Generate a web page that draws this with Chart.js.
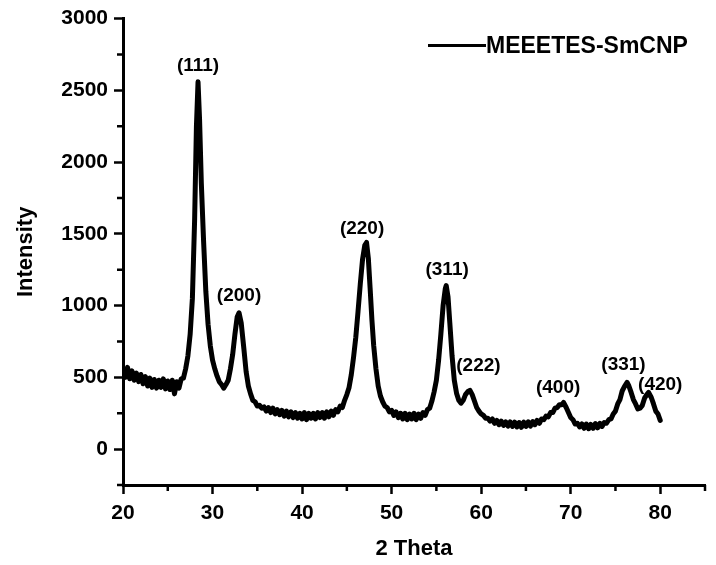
<!DOCTYPE html>
<html>
<head>
<meta charset="utf-8">
<script src="https://cdn.jsdelivr.net/npm/chart.js@4/dist/chart.umd.min.js"></script>
<style>
  html, body { margin: 0; padding: 0; background: #fff; }
  #wrap { width: 716px; height: 565px; }
</style>
</head>
<body>
<div id="wrap"><canvas id="c" width="716" height="565"></canvas></div>
<script>
// ---- data ----
const seriesName = 'MEEETES-SmCNP';
const twoTheta = [
  20.00,20.25,20.50,20.75,21.00,21.25,21.50,21.75,22.00,22.25,22.50,22.75,23.00,23.25,23.50,23.75,
  24.00,24.25,24.50,24.75,25.00,25.25,25.50,25.75,26.00,26.25,26.50,26.75,27.00,27.25,27.50,27.75,
  28.00,28.20,28.38,28.55,28.75,29.00,29.25,29.50,29.75,30.00,30.25,30.50,30.75,31.00,31.25,31.50,
  31.75,32.00,32.25,32.50,32.75,32.96,33.20,33.50,33.75,34.00,34.25,34.50,34.75,35.00,35.25,35.50,
  35.75,36.00,36.25,36.50,36.75,37.00,37.25,37.50,37.75,38.00,38.25,38.50,38.75,39.00,39.25,39.50,
  39.75,40.00,40.25,40.50,40.75,41.00,41.25,41.50,41.75,42.00,42.25,42.50,42.75,43.00,43.25,43.50,
  43.75,44.00,44.25,44.50,44.75,45.00,45.25,45.50,45.75,46.00,46.25,46.50,46.75,47.00,47.20,47.40,
  47.60,47.80,48.00,48.25,48.50,48.75,49.00,49.25,49.50,49.75,50.00,50.25,50.50,50.75,51.00,51.25,
  51.50,51.75,52.00,52.25,52.50,52.75,53.00,53.25,53.50,53.75,54.00,54.25,54.50,54.75,55.00,55.25,
  55.50,55.75,56.00,56.10,56.30,56.50,56.75,57.00,57.25,57.50,57.75,58.00,58.25,58.50,58.75,59.00,
  59.25,59.50,59.75,60.00,60.25,60.50,60.75,61.00,61.25,61.50,61.75,62.00,62.25,62.50,62.75,63.00,
  63.25,63.50,63.75,64.00,64.25,64.50,64.75,65.00,65.25,65.50,65.75,66.00,66.25,66.50,66.75,67.00,
  67.25,67.50,67.75,68.00,68.25,68.50,68.75,69.00,69.20,69.50,69.75,70.00,70.25,70.50,70.75,71.00,
  71.25,71.50,71.75,72.00,72.25,72.50,72.75,73.00,73.25,73.50,73.75,74.00,74.25,74.50,74.75,75.00,
  75.25,75.50,75.75,76.00,76.30,76.50,76.75,77.00,77.25,77.50,77.75,78.00,78.25,78.50,78.70,79.00,
  79.25,79.50,79.75,80.00
];
const intensity = [
  560,500,570,490,545,480,530,470,520,455,505,440,495,430,485,425,
  480,430,490,420,475,415,480,385,470,425,490,495,560,650,800,1050,
  1600,2250,2560,2300,1850,1450,1100,870,720,620,560,510,470,450,425,450,
  480,560,660,800,920,950,880,700,540,440,385,340,330,300,305,285,
  295,265,290,255,285,245,275,240,270,230,265,225,260,220,255,215,
  250,210,255,205,250,215,250,210,255,220,255,215,260,225,265,235,
  275,260,300,290,340,380,430,520,640,780,960,1150,1320,1420,1440,1330,
  1120,900,720,560,440,370,330,300,290,260,270,235,260,220,250,210,
  250,205,245,210,250,205,245,215,255,235,275,285,335,400,480,620,
  800,1000,1120,1140,1060,880,650,480,390,340,320,340,380,400,410,380,
  335,290,265,245,235,215,215,195,210,180,200,170,195,165,190,160,
  190,158,188,155,185,152,188,158,190,160,192,170,200,180,210,205,
  230,225,255,255,285,290,310,310,325,290,255,220,205,175,180,155,
  175,145,175,142,172,145,178,148,180,158,185,180,205,210,245,265,
  315,345,405,435,465,440,395,345,315,280,285,305,355,380,395,360,
  315,265,245,200
];
// peak labels (Miller indices) and where they sit, in data units
const peakLabels = ['(111)','(200)','(220)','(311)','(222)','(400)','(331)','(420)'];
const peakLabelX = [28.38, 32.96, 46.7, 56.2, 59.7, 68.6, 75.9, 80.0];
const peakLabelY = [2674, 1069, 1535, 1250, 583, 430, 590, 451];
// axis ticks
const xMin = 20, xMax = 85, xMajor = 10, xMinor = 5;
const yMin = -250, yMax = 3000, yMajor = 500, yMinor = 250;

const points = twoTheta.map((t, i) => ({ x: t, y: intensity[i] }));
const FONT = "'Liberation Sans', Arial, sans-serif";

function buildTicks(lo, hi, step) {
  const out = [];
  for (let v = lo; v <= hi + 1e-9; v += step) out.push({ value: Math.round(v * 1000) / 1000 });
  return out;
}
const isMajor = (v, step) => Math.abs(v / step - Math.round(v / step)) < 1e-6;

const minorTicks = {
  id: 'minorTicks',
  afterDraw(chart) {
    const ctx = chart.ctx;
    const xs = chart.scales.x, ys = chart.scales.y;
    const ca = chart.chartArea;
    ctx.save();
    ctx.strokeStyle = '#000';
    ctx.lineWidth = 2.5;
    ctx.beginPath();
    xs.ticks.forEach(t => {
      if (isMajor(t.value, xMajor)) return;
      const px = xs.getPixelForValue(t.value);
      ctx.moveTo(px, ca.bottom);
      ctx.lineTo(px, ca.bottom + 6);
    });
    ys.ticks.forEach(t => {
      if (isMajor(t.value, yMajor)) return;
      const py = ys.getPixelForValue(t.value);
      ctx.moveTo(ca.left, py);
      ctx.lineTo(ca.left - 6, py);
    });
    ctx.stroke();
    ctx.restore();
  }
};

const peakText = {
  id: 'peakText',
  afterDatasetsDraw(chart) {
    const ctx = chart.ctx;
    const xs = chart.scales.x, ys = chart.scales.y;
    ctx.save();
    ctx.fillStyle = '#000';
    ctx.font = "bold 19px " + FONT;
    ctx.textAlign = 'center';
    ctx.textBaseline = 'middle';
    peakLabels.forEach((lab, i) => {
      ctx.fillText(lab, xs.getPixelForValue(peakLabelX[i]), ys.getPixelForValue(peakLabelY[i]));
    });
    ctx.restore();
  }
};

const legendLine = {
  id: 'legendLine',
  afterDraw(chart) {
    const ctx = chart.ctx;
    const ca = chart.chartArea;
    const x0 = ca.left + 305, y0 = ca.top + 27;
    ctx.save();
    ctx.strokeStyle = '#000';
    ctx.lineWidth = 3;
    ctx.beginPath();
    ctx.moveTo(x0, y0);
    ctx.lineTo(x0 + 58, y0);
    ctx.stroke();
    ctx.fillStyle = '#000';
    ctx.font = "bold 23px " + FONT;
    ctx.textAlign = 'left';
    ctx.textBaseline = 'middle';
    ctx.fillText(seriesName, x0 + 58, y0 + 1);
    ctx.restore();
  }
};

new Chart(document.getElementById('c'), {
  type: 'line',
  data: {
    datasets: [{
      label: seriesName,
      data: points,
      borderColor: '#000',
      borderWidth: 5,
      borderJoinStyle: 'round',
      borderCapStyle: 'round',
      pointRadius: 0,
      tension: 0,
      fill: false
    }]
  },
  options: {
    responsive: false,
    animation: false,
    layout: { padding: { top: 17, right: 11, left: 0, bottom: 0 } },
    plugins: {
      legend: { display: false },
      tooltip: { enabled: false }
    },
    scales: {
      x: {
        type: 'linear',
        min: xMin, max: xMax,
        afterBuildTicks(s) { s.ticks = buildTicks(xMin, xMax, xMinor); },
        afterFit(s) { s.height = 80; },
        border: { display: true, color: '#000', width: 3 },
        grid: {
          drawOnChartArea: false,
          drawTicks: true,
          tickLength: 9,
          tickWidth: 2.5,
          tickColor: (c) => (c.tick && isMajor(c.tick.value, xMajor)) ? '#000' : 'rgba(0,0,0,0)'
        },
        ticks: {
          color: '#000',
          padding: 7,
          autoSkip: false,
          maxRotation: 0,
          font: { family: FONT, size: 21, weight: 'bold' },
          callback: (v) => (isMajor(v, xMajor) ? String(v) : '')
        },
        title: {
          display: true,
          text: '2 Theta',
          color: '#000',
          padding: { top: 0, bottom: 3 },
          font: { family: FONT, size: 22, weight: 'bold' }
        }
      },
      y: {
        type: 'linear',
        min: yMin, max: yMax,
        afterBuildTicks(s) { s.ticks = buildTicks(yMin, yMax, yMinor); },
        afterFit(s) { s.width = 123; },
        border: { display: true, color: '#000', width: 3 },
        grid: {
          drawOnChartArea: false,
          drawTicks: true,
          tickLength: 9,
          tickWidth: 2.5,
          tickColor: (c) => (c.tick && isMajor(c.tick.value, yMajor)) ? '#000' : 'rgba(0,0,0,0)'
        },
        ticks: {
          color: '#000',
          padding: 6,
          autoSkip: false,
          font: { family: FONT, size: 21, weight: 'bold' },
          callback: (v) => (isMajor(v, yMajor) ? String(v) : '')
        },
        title: {
          display: true,
          text: 'Intensity',
          color: '#000',
          padding: { top: 13, bottom: 0 },
          font: { family: FONT, size: 22, weight: 'bold' }
        }
      }
    }
  },
  plugins: [minorTicks, peakText, legendLine]
});
</script>
</body>
</html>
